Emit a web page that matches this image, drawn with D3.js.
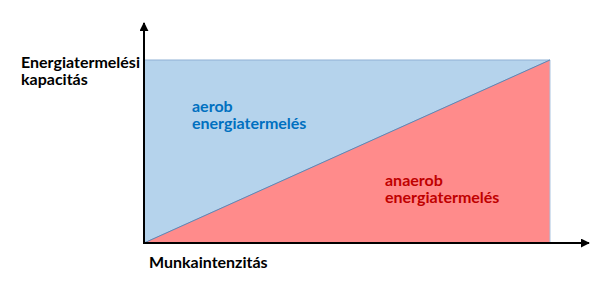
<!DOCTYPE html>
<html>
<head>
<meta charset="utf-8">
<script src="https://cdn.jsdelivr.net/npm/d3@7"></script>
<style>
  body { margin: 0; background: #fff; }
  text { font-family: Lato, "Open Sans", sans-serif; font-weight: bold; }
</style>
</head>
<body>
<div id="chart"></div>
<script>
// work intensity (0..1) and the two shares of the energy capacity
var intensity = [0, 1];
var capacity = [1, 1];          // total capacity (top of the box)
var anaerobShare = [0, 1];      // anaerob grows linearly with intensity

var yLabel = ["Energiatermelési", "kapacitás"];
var xLabel = "Munkaintenzitás";
var aerobLabel = ["aerob", "energiatermelés"];
var anaerobLabel = ["anaerob", "energiatermelés"];

var width = 602, height = 288;
var x0 = 144, x1 = 550, yBottom = 243, yTop = 60;

var svg = d3.select("#chart").append("svg")
  .attr("width", width)
  .attr("height", height);

var x = d3.scaleLinear().domain([0, 1]).range([x0, x1]);
var y = d3.scaleLinear().domain([0, 1]).range([yBottom, yTop]);

var pts = intensity.map(function (d, i) {
  return { x: d, top: capacity[i], mid: anaerobShare[i] };
});

// aerob part: between anaerob line and capacity
svg.append("path")
  .datum(pts)
  .attr("d", d3.area()
    .x(function (d) { return x(d.x); })
    .y0(function (d) { return y(d.mid); })
    .y1(function (d) { return y(d.top); }))
  .style("fill", "#b5d3ec")
  .style("stroke", "#8fb0d4")
  .style("stroke-width", 1);

// anaerob part: below the line
svg.append("path")
  .datum(pts)
  .attr("d", d3.area()
    .x(function (d) { return x(d.x); })
    .y0(y(0))
    .y1(function (d) { return y(d.mid); }))
  .style("fill", "#ff8b8b");

// right edge of the box
svg.append("line")
  .attr("x1", x(1)).attr("x2", x(1))
  .attr("y1", y(0)).attr("y2", y(1))
  .style("stroke", "#a9c3e0")
  .style("stroke-width", 1);

// the dividing line
svg.append("path")
  .datum(pts)
  .attr("d", d3.line()
    .x(function (d) { return x(d.x); })
    .y(function (d) { return y(d.mid); }))
  .style("fill", "none")
  .style("stroke", "#5f86b4")
  .style("stroke-width", 1);

// arrow heads
var defs = svg.append("defs");
defs.append("marker")
  .attr("id", "arrow")
  .attr("viewBox", "0 0 10 10")
  .attr("refX", 9).attr("refY", 5)
  .attr("markerWidth", 4.5).attr("markerHeight", 4.5)
  .attr("orient", "auto")
  .append("path")
  .attr("d", "M0,0 L10,5 L0,10 z")
  .style("fill", "#000");

// axes
svg.append("line")
  .attr("x1", x0).attr("y1", yBottom)
  .attr("x2", x0).attr("y2", 23)
  .style("stroke", "#000")
  .style("stroke-width", 2)
  .attr("marker-end", "url(#arrow)");

svg.append("line")
  .attr("x1", x0 - 1).attr("y1", yBottom)
  .attr("x2", 589).attr("y2", yBottom)
  .style("stroke", "#000")
  .style("stroke-width", 2)
  .attr("marker-end", "url(#arrow)");

// labels, one text element per line
function block(lines, px, py, lh, color) {
  lines.forEach(function (s, i) {
    svg.append("text")
      .attr("x", px).attr("y", py + i * lh)
      .style("font-size", "16px")
      .style("fill", color)
      .text(s);
  });
}

block(yLabel, 21, 68, 17, "#000");
block([xLabel], 149, 268, 17, "#000");
block(aerobLabel, 192, 112, 17, "#0070c0");
block(anaerobLabel, 385, 186, 17, "#c00000");
</script>
</body>
</html>
